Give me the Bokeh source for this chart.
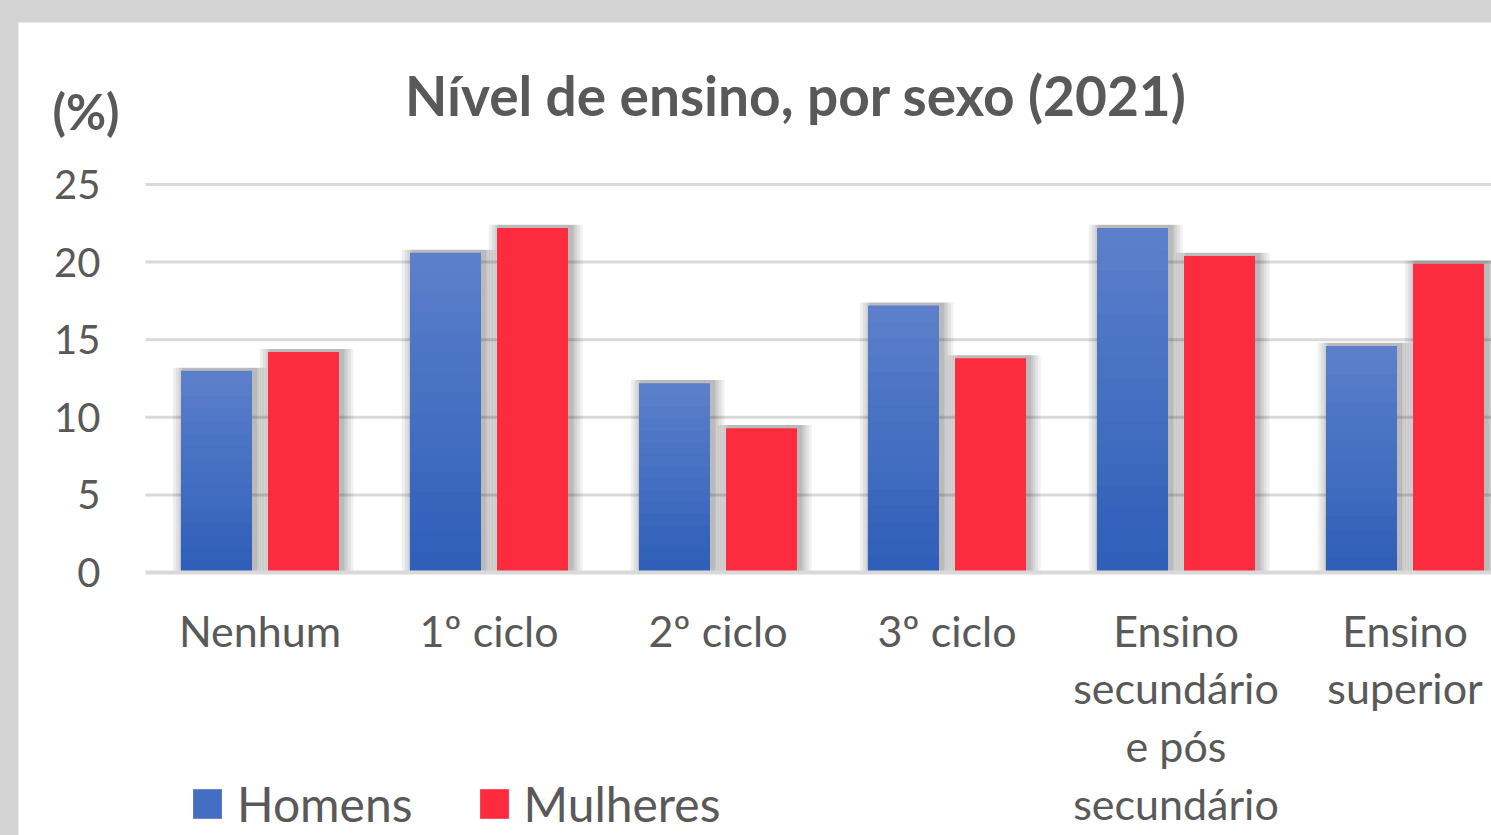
import numpy as np
from bokeh.plotting import figure
from bokeh.models import Range1d, Label, Legend, LegendItem
from bokeh.layouts import column
from bokeh.embed import file_html
from bokeh.resources import INLINE
from bokeh.core.properties import value

# ---------------- data ----------------
categories = ["Nenhum", "1º ciclo", "2º ciclo", "3º ciclo",
              "Ensino\nsecundário\ne pós\nsecundário", "Ensino\nsuperior"]
homens = [13.0, 20.6, 12.2, 17.2, 22.2, 14.6]
mulheres = [14.2, 22.2, 9.3, 13.8, 20.4, 19.9]
y_ticks = [0, 5, 10, 15, 20, 25]
y_tick_labels = [str(t) for t in y_ticks]
series = ["Homens", "Mulheres"]
title_text = "Nível de ensino, por sexo (2021)"
unit_text = "(%)"

# ---------------- style / geometry ----------------
FONT = "Lato"
TXT = "#595959"
GRID = "#d9d9d9"
RED = "#fc2b3d"
BLUE_TOP = np.array([92, 128, 203])
BLUE_BOT = np.array([46, 94, 184])
BAR_W = 0.31
OFF = 0.19

W, H = 1473, 813            # canvas size (inside grey padding 18/22)
PX_PER_CAT = 229.0
PX_PER_UNIT = 15.52
LEFT_PX = 127               # canvas left -> category axis start
TOP_PX = 162                # canvas top -> 25 gridline
x_start = -LEFT_PX / PX_PER_CAT
x_end = (W - LEFT_PX) / PX_PER_CAT
y_end = 25 + TOP_PX / PX_PER_UNIT
y_start = y_end - H / PX_PER_UNIT

pos = np.arange(len(categories)) + 0.5
h = np.array(homens)
m = np.array(mulheres)
n_cat = len(categories)

p = figure(width=W, height=H,
           x_range=Range1d(x_start, x_end), y_range=Range1d(y_start, y_end),
           output_backend="svg", toolbar_location=None,
           x_axis_location=None, y_axis_location=None,
           min_border=0, min_border_left=0, min_border_right=0,
           min_border_top=0, min_border_bottom=0,
           background_fill_color="white", border_fill_color="white",
           outline_line_color=None)
p.title.visible = False
p.xgrid.visible = False
p.ygrid.visible = False

# gridlines
p.segment(x0=[0] * (len(y_ticks) - 1), x1=[n_cat] * (len(y_ticks) - 1),
          y0=y_ticks[1:], y1=y_ticks[1:], line_color=GRID, line_width=3)

# soft shadows
for vals, off in ((h, -OFF), (m, OFF)):
    for dw in (0.10, 0.075, 0.05, 0.03, 0.015):
        p.vbar(x=pos + off + 0.014, top=vals + 0.2, bottom=0, width=BAR_W + dw,
               fill_color="black", fill_alpha=0.06, line_color=None)

# blue gradient bars (layers, each covering the lower part)
N = 16
blue_mid = None
for k in range(N):
    frac = (k + 0.5) / N
    c = BLUE_TOP + (BLUE_BOT - BLUE_TOP) * frac
    col = "#%02x%02x%02x" % tuple(int(round(v)) for v in c)
    r = p.vbar(x=pos - OFF, top=h * (1 - k / N), bottom=0, width=BAR_W,
               fill_color=col, line_color=None)
    if k == N // 2:
        blue_mid = r

r_red = p.vbar(x=pos + OFF, top=m, bottom=0, width=BAR_W,
               fill_color=RED, line_color=None)

# base (x axis) line
p.segment(x0=[0], x1=[n_cat], y0=[0], y1=[0], line_color=GRID, line_width=4)

# y tick labels
p.text(x=[0] * len(y_ticks), y=y_ticks, text=y_tick_labels, x_offset=-45,
       text_align="right", text_baseline="middle",
       text_font=value(FONT), text_font_size="40px", text_color=TXT)

# category labels
p.text(x=pos, y=[0] * n_cat, text=categories, y_offset=32,
       text_align="center", text_baseline="top", text_line_height=1.135,
       text_font=value(FONT), text_font_size="43px", text_color=TXT)

# title and unit
p.add_layout(Label(x=777.5, y=741, x_units="screen", y_units="screen",
                   text=title_text, text_font=FONT, text_font_size="55px",
                   text_font_style="bold", text_color=TXT,
                   text_align="center", text_baseline="alphabetic"))
p.add_layout(Label(x=34, y=725, x_units="screen", y_units="screen",
                   text=unit_text, text_font=FONT, text_font_size="49px",
                   text_font_style="bold", text_color=TXT,
                   text_align="left", text_baseline="alphabetic"))

# legend
legend = Legend(items=[LegendItem(label=series[0], renderers=[blue_mid]),
                       LegendItem(label=series[1], renderers=[r_red])],
                location=(171, 3), orientation="horizontal",
                glyph_width=36, glyph_height=37, label_standoff=12, spacing=63,
                padding=0, margin=0, border_line_color=None,
                background_fill_alpha=0,
                label_text_font=FONT, label_text_font_size="48px",
                label_text_color=TXT)
p.add_layout(legend)

layout = column(p, styles={"background-color": "#d4d4d4",
                           "padding": "22px 0px 0px 18px"})

open("out.html", "w").write(file_html(layout, INLINE))
